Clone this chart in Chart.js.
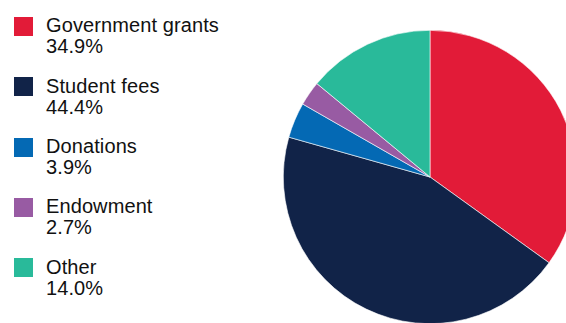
<!DOCTYPE html>
<html>
<head>
<meta charset="utf-8">
<script src="https://cdn.jsdelivr.net/npm/chart.js@4"></script>
<style>
  html, body { margin: 0; padding: 0; width: 566px; height: 323px; overflow: hidden; background: #fff; }
  #legend { position: absolute; left: 0; top: 0; font-family: "Liberation Sans", Arial, sans-serif; font-size: 20px; line-height: 21px; color: #111; }
  .item { position: absolute; left: 14px; white-space: nowrap; }
  .box { position: absolute; left: 0; top: 1.7px; width: 19px; height: 19px; }
  .txt { position: absolute; left: 32px; top: 0; letter-spacing: 0.1px; }
  #wrap { position: absolute; left: 283px; top: 30px; width: 294px; height: 294px; }
</style>
</head>
<body>
<div id="legend"></div>
<div id="wrap"><canvas id="myChart--pie" width="294" height="294"></canvas></div>
<script>
// data
var labels = ["Government grants", "Student fees", "Donations", "Endowment", "Other"];
var shares = [34.9, 44.4, 3.9, 2.7, 14.0];
var colours = ["#E21B38", "#112348", "#0469B4", "#985BA3", "#29BA9A"];

// legend on the left, built from the arrays
var legend = document.getElementById("legend");
labels.forEach(function (name, i) {
    var item = document.createElement("div");
    item.className = "item";
    item.style.top = (15.3 + i * 60.3) + "px";
    item.innerHTML = '<div class="box" style="background:' + colours[i] + '"></div>' +
        '<div class="txt">' + name + '<br>' + shares[i].toFixed(1) + '%</div>';
    legend.appendChild(item);
});

// PIE CHART
var ctx = document.getElementById("myChart--pie");
var myPieChart = new Chart(ctx, {
    type: 'pie',
    data: {
        labels: labels,
        datasets: [{
            data: shares,
            backgroundColor: colours,
            borderColor: "#ffffff",
            borderWidth: 0.6
        }]
    },
    options: {
        responsive: false,
        animation: false,
        plugins: {
            legend: { display: false },
            tooltip: { enabled: false }
        }
    }
});
</script>
</body>
</html>
